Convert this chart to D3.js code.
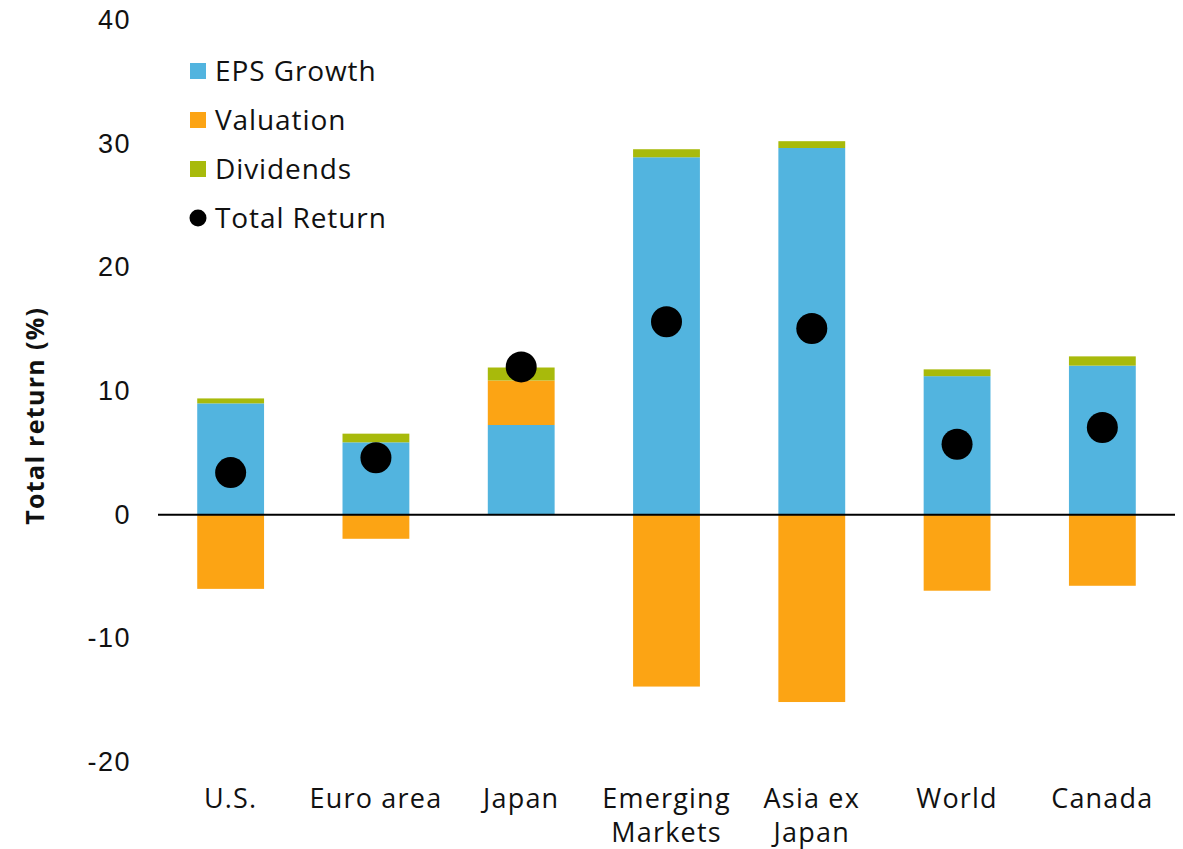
<!DOCTYPE html>
<html>
<head>
<meta charset="utf-8">
<script src="https://cdn.jsdelivr.net/npm/d3@7"></script>
<style>
  html, body { margin: 0; padding: 0; background: #fff; }
  svg { display: block; font-family: "Open Sans", "Noto Sans", sans-serif; }
</style>
</head>
<body>
<svg id="chart" width="1183" height="849"></svg>
<script>
// Regional equity return decomposition (%)
const regions = ["U.S.", "Euro area", "Japan", "Emerging Markets", "Asia ex Japan", "World", "Canada"];
const epsGrowth = [9.0, 5.85, 7.25, 28.9, 29.65, 11.2, 12.05];
const valuation = [-6.0, -1.95, 3.6, -13.9, -15.15, -6.15, -5.75];
const dividends = [0.4, 0.7, 1.05, 0.65, 0.55, 0.55, 0.75];
const totalReturn = [3.4, 4.6, 11.95, 15.6, 15.05, 5.7, 7.05];
const yTicks = [-20, -10, 0, 10, 20, 30, 40];

const seriesKeys = ["EPS Growth", "Valuation", "Dividends"];
const colors = { "EPS Growth": "#52B4DF", "Valuation": "#FCA414", "Dividends": "#A8BA0B" };

const rows = regions.map((r, i) => ({
  region: r,
  "EPS Growth": epsGrowth[i],
  "Valuation": valuation[i],
  "Dividends": dividends[i],
  total: totalReturn[i]
}));

const svg = d3.select("#chart");

const x = d3.scaleBand()
  .domain(regions)
  .range([158, 1175])
  .paddingInner(0.54)
  .paddingOuter(0.27);

const y = d3.scaleLinear()
  .domain([-20, 40])
  .range([762, 20]);

const stacked = d3.stack()
  .keys(seriesKeys)
  .offset(d3.stackOffsetDiverging)(rows);

// Stacked bars
svg.append("g")
  .selectAll("g")
  .data(stacked)
  .join("g")
  .attr("fill", d => colors[d.key])
  .selectAll("rect")
  .data(d => d)
  .join("rect")
  .attr("x", d => x(d.data.region))
  .attr("width", x.bandwidth())
  .attr("y", d => y(Math.max(d[0], d[1])))
  .attr("height", d => Math.abs(y(d[0]) - y(d[1])));

// Zero line
svg.append("line")
  .attr("x1", 158).attr("x2", 1175)
  .attr("y1", y(0)).attr("y2", y(0))
  .attr("stroke", "#000").attr("stroke-width", 2);

// Total return markers
svg.append("g")
  .selectAll("circle")
  .data(rows)
  .join("circle")
  .attr("cx", d => x(d.region) + x.bandwidth() / 2)
  .attr("cy", d => y(d.total))
  .attr("r", 15.5)
  .attr("fill", "#000");

// Y axis labels
const yAxis = svg.append("g")
  .attr("transform", "translate(131,0)")
  .call(d3.axisLeft(y).tickValues(yTicks).tickSize(0).tickPadding(0).tickFormat(d => String(d)));
yAxis.select(".domain").remove();
yAxis.selectAll("text")
  .attr("font-size", 27)
  .attr("letter-spacing", "1.5px")
  .attr("fill", "#111")
  .attr("font-family", "inherit");

svg.append("text")
  .attr("transform", `translate(44,${y(8)}) rotate(-90)`)
  .attr("text-anchor", "middle")
  .attr("font-size", 25)
  .attr("letter-spacing", "1.3px")
  .attr("font-weight", "bold")
  .attr("fill", "#111")
  .text("Total return (%)");

// X axis labels (wrapped to two lines where needed)
const xLabels = {
  "Emerging Markets": ["Emerging", "Markets"],
  "Asia ex Japan": ["Asia ex", "Japan"]
};
const xg = svg.append("g");
regions.forEach(r => {
  const lines = xLabels[r] || [r];
  const t = xg.append("text")
    .attr("x", x(r) + x.bandwidth() / 2)
    .attr("y", 808)
    .attr("text-anchor", "middle")
    .attr("font-size", 27)
    .attr("letter-spacing", "1.2px")
    .attr("fill", "#111");
  lines.forEach((l, i) => {
    t.append("tspan")
      .attr("x", x(r) + x.bandwidth() / 2)
      .attr("dy", i === 0 ? 0 : 34)
      .text(l);
  });
});

// Legend
const legendItems = [
  { label: "EPS Growth", type: "rect", color: colors["EPS Growth"] },
  { label: "Valuation", type: "rect", color: colors["Valuation"] },
  { label: "Dividends", type: "rect", color: colors["Dividends"] },
  { label: "Total Return", type: "dot", color: "#000" }
];
const legend = svg.append("g");
legendItems.forEach((item, i) => {
  const cy = 71 + i * 49;
  if (item.type === "rect") {
    legend.append("rect")
      .attr("x", 190).attr("y", cy - 8)
      .attr("width", 16).attr("height", 16)
      .attr("fill", item.color);
  } else {
    legend.append("circle")
      .attr("cx", 198).attr("cy", cy)
      .attr("r", 8.5)
      .attr("fill", item.color);
  }
  legend.append("text")
    .attr("x", 215).attr("y", cy)
    .attr("dy", "0.36em")
    .attr("font-size", 28)
    .attr("letter-spacing", "0.9px")
    .attr("fill", "#111")
    .text(item.label);
});
</script>
</body>
</html>
